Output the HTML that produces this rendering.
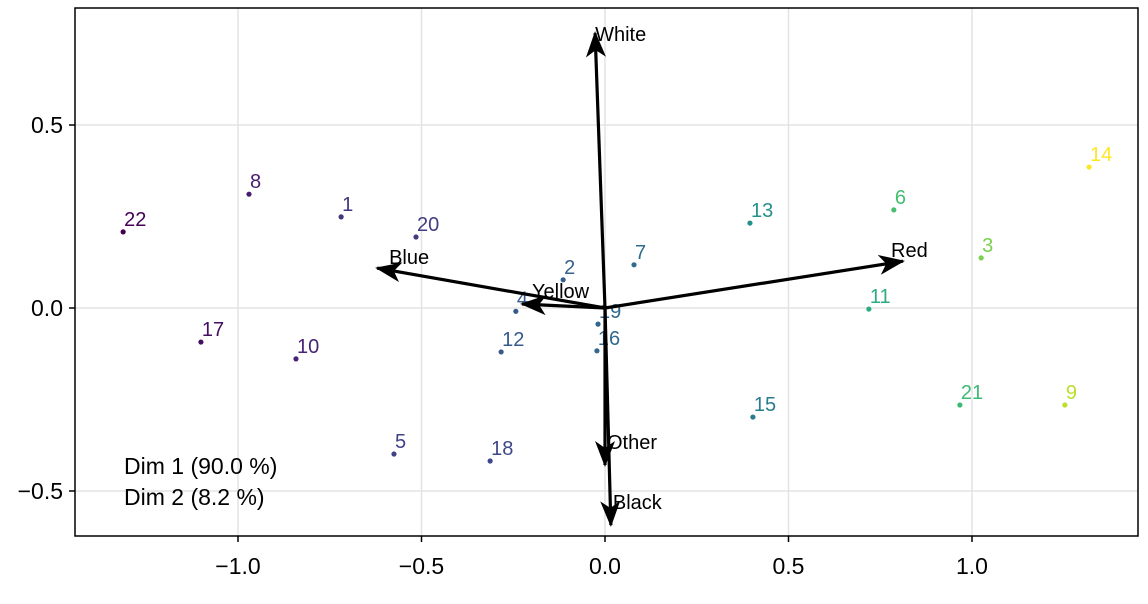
<!DOCTYPE html>
<html><head><meta charset="utf-8"><style>
body{margin:0;background:#fff}
svg{display:block;font-family:"Liberation Sans",sans-serif}
</style></head><body>
<svg id="chart" width="1148" height="604" viewBox="0 0 1148 604">
<defs><marker id="ah" viewBox="0 0 26 20" refX="24" refY="10" markerWidth="26" markerHeight="20" orient="auto" markerUnits="userSpaceOnUse"><path d="M0,0 L26,10 L0,20 L7,10 Z" fill="#000"/></marker></defs>
<g id="grid"></g><g id="marks"></g><g id="arrows"></g><g id="axes"></g>
</svg>
<script>
const pointLabels=["1","2","3","4","5","6","7","8","9","10","11","12","13","14","15","16","17","18","19","20","21","22"];
const dim1=[-0.719,-0.114,1.025,-0.243,-0.575,0.787,0.079,-0.970,1.253,-0.842,0.719,-0.283,0.395,1.319,0.403,-0.022,-1.101,-0.313,-0.019,-0.515,0.967,-1.313];
const dim2=[0.249,0.077,0.137,-0.009,-0.399,0.268,0.118,0.311,-0.265,-0.139,-0.003,-0.120,0.232,0.385,-0.298,-0.117,-0.093,-0.418,-0.044,0.194,-0.265,0.208];
const colorValue=[0.15,0.3,0.8,0.28,0.2,0.7,0.35,0.08,0.9,0.1,0.62,0.28,0.5,1.0,0.42,0.33,0.04,0.22,0.33,0.18,0.68,0.0];
const varNames=["White","Blue","Yellow","Red","Other","Black"];
const varX=[-0.027,-0.621,-0.226,0.812,0.0,0.016];
const varY=[0.751,0.109,0.011,0.128,-0.429,-0.593];
const xTicks=[-1.0,-0.5,0.0,0.5,1.0];
const xTickLabels=["−1.0","−0.5","0.0","0.5","1.0"];
const yTicks=[0.5,0.0,-0.5];
const yTickLabels=["0.5","0.0","−0.5"];
const legendLines=["Dim 1 (90.0 %)","Dim 2 (8.2 %)"];

const L=75,R=1138,T=8,B=536;
const sx=v=>605+v*367, sy=v=>308-v*366;
const NS="http://www.w3.org/2000/svg";
function mk(t,a,p){const e=document.createElementNS(NS,t);for(const k in a)e.setAttribute(k,a[k]);p.appendChild(e);return e;}
const vir=[[68,1,84],[72,40,120],[62,73,137],[49,104,142],[38,130,142],[31,158,137],[53,183,121],[109,205,89],[180,222,44],[253,231,37]];
function viridis(t){t=Math.max(0,Math.min(1,t))*9;const i=Math.min(8,Math.floor(t)),f=t-i;const a=vir[i],b=vir[i+1];return `rgb(${a.map((c,j)=>Math.round(c+(b[j]-c)*f)).join(',')})`;}
const grid=document.getElementById('grid'),marks=document.getElementById('marks'),arrows=document.getElementById('arrows'),axes=document.getElementById('axes');
xTicks.forEach((v,i)=>{
 const g=mk('line',{x1:sx(v),x2:sx(v),y1:T,y2:B,stroke:'#e3e3e3','stroke-width':1.5},grid);
 
 mk('line',{x1:sx(v),x2:sx(v),y1:B,y2:B+6,stroke:'#000','stroke-width':1.5},axes);
 const t=mk('text',{x:sx(v),y:B+38,'text-anchor':'middle','font-size':23},axes);t.textContent=xTickLabels[i];
 
});
yTicks.forEach((v,i)=>{
 const g=mk('line',{x1:L,x2:R,y1:sy(v),y2:sy(v),stroke:'#e3e3e3','stroke-width':1.5},grid);
 
 mk('line',{x1:L-6,x2:L,y1:sy(v),y2:sy(v),stroke:'#000','stroke-width':1.5},axes);
 const t=mk('text',{x:L-12,y:sy(v)+8,'text-anchor':'end','font-size':23},axes);t.textContent=yTickLabels[i];
 
});
const fr=mk('rect',{x:L,y:T,width:R-L,height:B-T,fill:'none',stroke:'#000','stroke-width':1.5},axes);

pointLabels.forEach((lab,i)=>{
 const c=viridis(colorValue[i]);
 const p=mk('circle',{cx:sx(dim1[i]),cy:sy(dim2[i]),r:2.6,fill:c},marks);
 
 const t=mk('text',{x:sx(dim1[i])+1,y:sy(dim2[i])-6,'font-size':20,fill:c},marks);t.textContent=lab;
 
});
varNames.forEach((n,i)=>{
 const a=mk('line',{x1:sx(0),y1:sy(0),x2:sx(varX[i]),y2:sy(varY[i]),stroke:'#000','stroke-width':3.2,'marker-end':'url(#ah)'},arrows);
 
 let tx=sx(varX[i]),ty=sy(varY[i]);
 if(i==0){ty+=8;}
 if(i==1){tx+=12;ty-=4;}
 if(i==2){tx+=10;ty-=6;}
 if(i==3){tx-=12;ty-=4;}
 if(i>=4){tx+=2;ty-=16;}
 const t=mk('text',{x:tx,y:ty,'font-size':20},arrows);t.textContent=n;
 
});
legendLines.forEach((s,i)=>{
 const t=mk('text',{x:124,y:474+i*31,'font-size':23},axes);t.textContent=s;
 
});
</script>
</body></html>
